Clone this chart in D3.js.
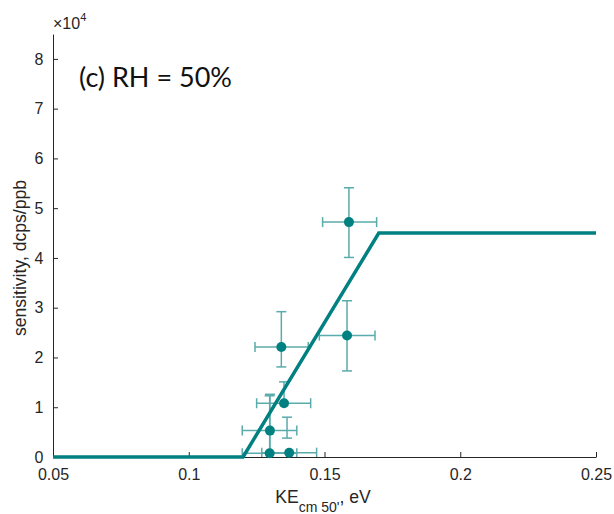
<!DOCTYPE html>
<html>
<head>
<meta charset="utf-8">
<script src="https://cdn.jsdelivr.net/npm/d3@7.9.0/dist/d3.min.js"></script>
<style>
  body { margin: 0; background: #fff; }
  svg { display: block; }
  .axis text { font-family: "Liberation Sans", Arial, sans-serif; font-size: 16px; fill: #262626; }
  .axis path, .axis line { stroke: #262626; stroke-width: 1; }
</style>
</head>
<body>
<svg id="chart" width="614" height="514"></svg>
<script>
// measured points: KE (eV) and sensitivity (dcps/ppb)
const keVals = [0.1590, 0.1583, 0.1341, 0.1351, 0.1299, 0.1298, 0.1370];
const sensVals = [47200, 24400, 22100, 10800, 5300, 750, 870];
// horizontal error bar ends
const keLow = [0.1493, 0.1481, 0.1244, 0.1250, 0.1197, 0.1197, 0.1269];
const keHigh = [0.1692, 0.1686, 0.1440, 0.1449, 0.1398, 0.1398, 0.1471];
// vertical error bar ends
const sensLow = [40100, 17300, 18100, 10800, -1900, -10700, 870];
const sensHigh = [54100, 31400, 29200, 15100, 12600, 12300, 870];
// loose vertical bar with no marker on it
const extraBarKe = [0.1362];
const extraBarLow = [3800];
const extraBarHigh = [8000];

// piecewise fit line
const fitKe = [0.05, 0.12, 0.17, 0.25];
const fitSens = [0, 0, 45000, 45000];

const xTicks = [0.05, 0.1, 0.15, 0.2, 0.25];
const yTicks = [0, 10000, 20000, 30000, 40000, 50000, 60000, 70000, 80000];

const teal = "#008080", barColor = "#5aabab";
const font = "'Liberation Sans', Arial, sans-serif";

const svg = d3.select("#chart");
const x = d3.scaleLinear().domain([0.05, 0.25]).range([53, 596]);
const y = d3.scaleLinear().domain([0, 85000]).range([457, 34]);

svg.append("defs").append("clipPath").attr("id", "plotclip")
  .append("rect").attr("x", 40).attr("y", y(85000)).attr("width", 570).attr("height", y(0) - y(85000));

// axes
svg.append("g").attr("class", "axis")
  .attr("transform", `translate(0,${y(0)})`)
  .call(d3.axisBottom(x).tickValues(xTicks).tickSizeInner(-5).tickSizeOuter(0).tickPadding(12)
    .tickFormat(d => String(+d.toFixed(2))));

svg.append("g").attr("class", "axis")
  .attr("transform", `translate(${x(0.05)},0)`)
  .call(d3.axisLeft(y).tickValues(yTicks).tickSizeInner(-5).tickSizeOuter(0).tickPadding(9.5)
    .tickFormat(d => d / 10000));

const pts = keVals.map((k, i) => ({
  k, s: sensVals[i], kLo: keLow[i], kHi: keHigh[i], sLo: sensLow[i], sHi: sensHigh[i]
}));

const bars = svg.append("g").attr("clip-path", "url(#plotclip)")
  .attr("stroke", barColor).attr("stroke-width", 1.5).attr("fill", "none");
const cap = 5;

pts.forEach(d => {
  // horizontal
  bars.append("line").attr("x1", x(d.kLo)).attr("x2", x(d.kHi)).attr("y1", y(d.s)).attr("y2", y(d.s));
  bars.append("line").attr("x1", x(d.kLo)).attr("x2", x(d.kLo)).attr("y1", y(d.s) - cap).attr("y2", y(d.s) + cap);
  bars.append("line").attr("x1", x(d.kHi)).attr("x2", x(d.kHi)).attr("y1", y(d.s) - cap).attr("y2", y(d.s) + cap);
  if (d.sHi > d.sLo) {
    bars.append("line").attr("x1", x(d.k)).attr("x2", x(d.k)).attr("y1", y(d.sLo)).attr("y2", y(d.sHi));
    bars.append("line").attr("x1", x(d.k) - cap).attr("x2", x(d.k) + cap).attr("y1", y(d.sLo)).attr("y2", y(d.sLo));
    bars.append("line").attr("x1", x(d.k) - cap).attr("x2", x(d.k) + cap).attr("y1", y(d.sHi)).attr("y2", y(d.sHi));
  }
});

extraBarKe.forEach((k, i) => {
  bars.append("line").attr("x1", x(k)).attr("x2", x(k)).attr("y1", y(extraBarLow[i])).attr("y2", y(extraBarHigh[i]));
  bars.append("line").attr("x1", x(k) - cap).attr("x2", x(k) + cap).attr("y1", y(extraBarLow[i])).attr("y2", y(extraBarLow[i]));
  bars.append("line").attr("x1", x(k) - cap).attr("x2", x(k) + cap).attr("y1", y(extraBarHigh[i])).attr("y2", y(extraBarHigh[i]));
});

svg.append("g").selectAll("circle").data(pts).enter().append("circle")
  .attr("cx", d => x(d.k)).attr("cy", d => y(d.s)).attr("r", 5).attr("fill", teal);

svg.append("path")
  .datum(fitKe.map((k, i) => [k, fitSens[i]]))
  .attr("d", d3.line().x(d => x(d[0])).y(d => y(d[1])))
  .attr("fill", "none").attr("stroke", teal).attr("stroke-width", 3.5).attr("stroke-linejoin", "miter");

// exponent marker
const expo = svg.append("text").attr("x", 53).attr("y", 29)
  .style("font-family", font).style("font-size", "16px").attr("fill", "#262626");
expo.append("tspan").text("\u00d710");
expo.append("tspan").attr("dy", -8).style("font-size", "11px").text("4");

// axis labels
const xl = svg.append("text").attr("x", 323).attr("y", 503).attr("text-anchor", "middle")
  .style("font-family", font).style("font-size", "17.6px").attr("fill", "#262626");
xl.append("tspan").text("KE");
xl.append("tspan").attr("dy", 9).style("font-size", "14px").text("cm 50'");
xl.append("tspan").attr("dy", -9).text(", eV");

svg.append("text").attr("transform", "translate(26,258) rotate(-90)").attr("text-anchor", "middle")
  .style("font-family", font).style("font-size", "17.6px").attr("fill", "#262626")
  .text("sensitivity, dcps/ppb");

svg.append("text").attr("x", 79).attr("y", 87).style("font-family", "Lato, sans-serif")
  .style("font-size", "27px").attr("fill", "#111").text("(c) RH = 50%");
</script>
</body>
</html>
